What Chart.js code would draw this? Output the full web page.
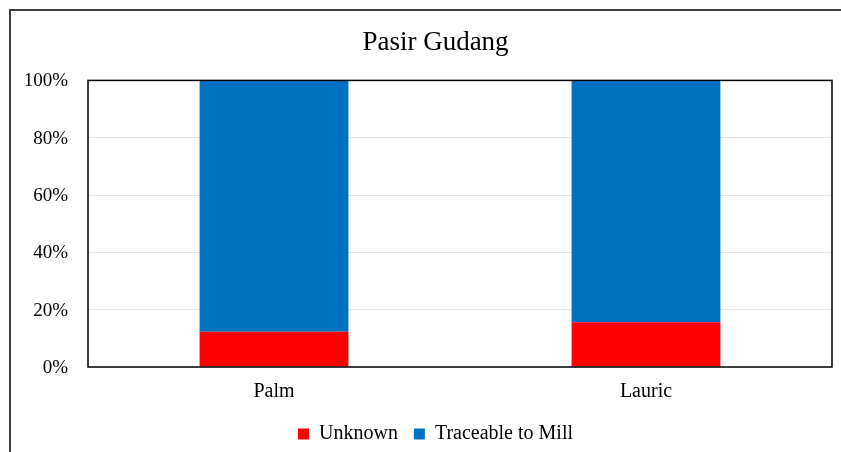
<!DOCTYPE html>
<html>
<head>
<meta charset="utf-8">
<script src="https://cdn.jsdelivr.net/npm/chart.js@4/dist/chart.umd.min.js"></script>
<style>
  html, body { margin: 0; padding: 0; background: #fff; width: 841px; height: 452px; overflow: hidden; }
  #frame { position: absolute; left: 9px; top: 9px; width: 849px; height: 460px; border-left: 2px solid #3f3f3f; border-top: 2px solid #3f3f3f; }
  #wrap { position: relative; width: 849px; height: 460px; }
</style>
</head>
<body>
<div id="frame"><div id="wrap"><canvas id="c"></canvas></div></div>
<script>
const title = 'Pasir Gudang';
const categories = ['Palm', 'Lauric'];
const seriesNames = ['Unknown', 'Traceable to Mill'];
const unknownValues = [12.3, 15.6];
const traceableValues = [87.7, 84.4];
const seriesColors = ['#ff0000', '#0070c0'];
const yMin = 0, yMax = 100, yStep = 20;

const FONT = '"Liberation Serif", "Times New Roman", serif';

const frameBox = {
  id: 'frameBox',
  afterDatasetsDraw(chart) {
    const a = chart.chartArea;
    const ctx = chart.ctx;
    ctx.save();
    ctx.strokeStyle = '#000';
    ctx.lineWidth = 1.5;
    ctx.strokeRect(a.left, a.top, a.right - a.left, a.bottom - a.top);
    ctx.restore();
  }
};

new Chart(document.getElementById('c'), {
  type: 'bar',
  data: {
    labels: categories,
    datasets: [
      { label: seriesNames[0], data: unknownValues, backgroundColor: seriesColors[0], barPercentage: 0.4, categoryPercentage: 1.0 },
      { label: seriesNames[1], data: traceableValues, backgroundColor: seriesColors[1], barPercentage: 0.4, categoryPercentage: 1.0 }
    ]
  },
  options: {
    responsive: true,
    maintainAspectRatio: false,
    animation: false,
    layout: { padding: { left: 0, right: 0, top: 0, bottom: 17 } },
    plugins: {
      title: {
        display: true, text: title, color: '#000',
        font: { family: FONT, size: 27, weight: 'normal' },
        padding: { top: 16, bottom: 21 }
      },
      legend: {
        position: 'bottom',
        labels: {
          color: '#000', font: { family: FONT, size: 20 },
          boxWidth: 11, boxHeight: 11, padding: 16
        }
      },
      tooltip: { enabled: false }
    },
    scales: {
      x: {
        stacked: true,
        afterFit(scale) { scale.height = 41; },
        grid: { display: false, drawTicks: false },
        border: { display: false },
        ticks: { color: '#000', font: { family: FONT, size: 20 }, padding: 13 }
      },
      y: {
        stacked: true,
        min: yMin, max: yMax,
        afterFit(scale) { scale.width = 77; },
        grid: { color: '#e6e6e6', lineWidth: 1, drawTicks: false },
        border: { display: false },
        ticks: {
          stepSize: yStep, color: '#000', font: { family: FONT, size: 19 }, padding: 20,
          labelOffset: 1,
          callback: v => v + '%'
        }
      },
      yRight: {
        position: 'right',
        display: true,
        min: yMin, max: yMax,
        afterFit(scale) { scale.width = 28; },
        grid: { display: false, drawTicks: false },
        border: { display: false },
        ticks: { display: false }
      }
    }
  },
  plugins: [frameBox]
});
</script>
</body>
</html>
